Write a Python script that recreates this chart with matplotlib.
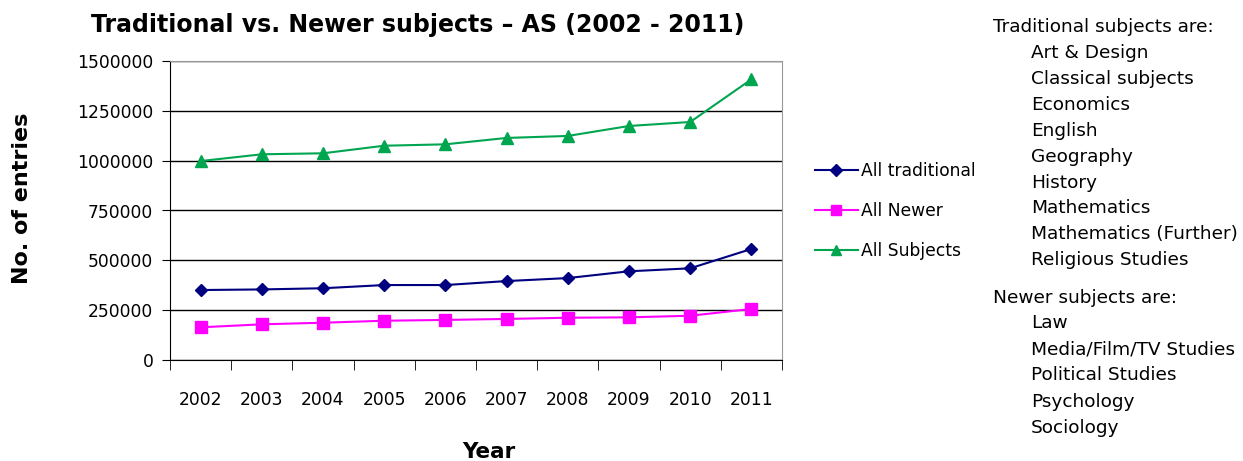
import matplotlib
matplotlib.use("Agg")
import matplotlib.pyplot as plt
import numpy as np

years = ["2002", "2003", "2004", "2005", "2006", "2007", "2008", "2009", "2010", "2011"]
all_traditional = [351000, 354000, 360000, 376000, 376000, 396000, 411000, 445000, 460000, 557000]
all_newer = [164000, 179000, 187000, 197000, 201000, 206000, 212000, 214000, 222000, 256000]
all_subjects = [998000, 1032000, 1037000, 1075000, 1082000, 1114000, 1124000, 1174000, 1194000, 1408000]
y_ticks = [0, 250000, 500000, 750000, 1000000, 1250000, 1500000]

traditional_list = ["Art & Design", "Classical subjects", "Economics", "English", "Geography",
                    "History", "Mathematics", "Mathematics (Further)", "Religious Studies"]
newer_list = ["Law", "Media/Film/TV Studies", "Political Studies", "Psychology", "Sociology"]

W, H = 1243, 461
fig = plt.figure(figsize=(W / 100, H / 100), dpi=100)
ax = fig.add_axes([170 / W, 1 - 360 / H, (782 - 170) / W, (360 - 61) / H])

x = np.arange(len(years))
l1, = ax.plot(x, all_traditional, color="#000080", marker="D", markersize=6.5, lw=1.5, label="All traditional")
l2, = ax.plot(x, all_newer, color="#FF00FF", marker="s", markersize=8, lw=1.5, label="All Newer")
l3, = ax.plot(x, all_subjects, color="#00A550", marker="^", markersize=8, lw=1.5, label="All Subjects")

ax.set_xlim(-0.5, len(years) - 0.5)
ax.set_ylim(0, 1500000)
ax.set_yticks(y_ticks)
ax.set_yticklabels([str(v) for v in y_ticks], fontsize=12.3)
ax.yaxis.grid(True, color="black", lw=1)
ax.set_axisbelow(True)

ax.set_xticks(x)
ax.set_xticklabels(years, fontsize=12.3)
ax.set_xticks(np.arange(-0.5, len(years), 1), minor=True)
ax.tick_params(axis="x", which="major", length=0, pad=22)
ax.tick_params(axis="x", which="minor", length=7, direction="out", color="black")
ax.tick_params(axis="y", length=6, direction="out", color="black", pad=6)

for s in ["top", "right"]:
    ax.spines[s].set_color("#999999")
for s in ["left", "bottom"]:
    ax.spines[s].set_color("black")

fig.text(22 / W, 1 - 198 / H, "No. of entries", fontsize=16, fontweight="bold",
         rotation=90, ha="center", va="center")
fig.text(489 / W, 1 - 452 / H, "Year", fontsize=15.5, fontweight="bold", ha="center", va="center")
fig.text(418 / W, 1 - 25 / H, "Traditional vs. Newer subjects \u2013 AS (2002 - 2011)",
         fontsize=17, fontweight="bold", ha="center", va="center")

leg = fig.legend(handles=[l1, l2, l3], loc="center left", bbox_to_anchor=(808 / W, 1 - 211 / H),
                 frameon=False, fontsize=12.3, handlelength=2.5, handletextpad=0.2, labelspacing=1.3,
                 borderaxespad=0, markerscale=0.9)

fs = 13.3
fig.text(993 / W, 1 - 27 / H, "Traditional subjects are:", fontsize=fs, va="center", ha="left")
for i, t in enumerate(traditional_list):
    fig.text(1031 / W, 1 - (53 + i * 25.9) / H, t, fontsize=fs, va="center", ha="left")
fig.text(993 / W, 1 - 298 / H, "Newer subjects are:", fontsize=fs, va="center", ha="left")
for i, t in enumerate(newer_list):
    fig.text(1031 / W, 1 - (323 + i * 26.2) / H, t, fontsize=fs, va="center", ha="left")

fig.savefig("out.png", dpi=100)
